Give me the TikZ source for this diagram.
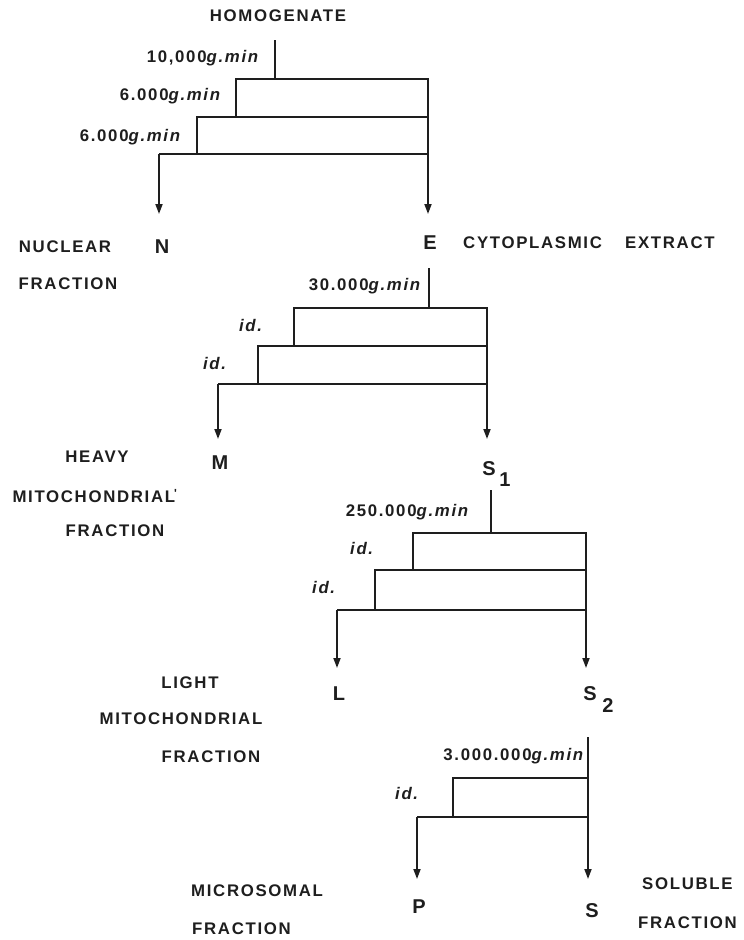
\documentclass[tikz,border=0pt]{standalone}
\usepackage{fontspec}
\setmainfont{Liberation Sans}
\newfontfamily\lblfont[LetterSpace=10]{Liberation Sans}
\newfontfamily\bigfont{Liberation Sans}
\usetikzlibrary{arrows.meta}
\definecolor{ink}{HTML}{1E1E1E}
\tikzset{
  lbl/.style={font=\lblfont\bfseries\fontsize{16.8}{19}\selectfont, inner sep=0pt, text=ink},
  cond/.style={lbl, anchor=east},
  big/.style={font=\bigfont\bfseries\fontsize{20}{22}\selectfont, inner sep=0pt, text=ink},
  flow/.style={line width=1.8pt, draw=ink},
  arr/.style={flow, -{Triangle[width=7pt,length=10pt]}}
}
\begin{document}
\begin{tikzpicture}[x=1pt,y=-1pt]
\useasboundingbox[fill=white] (0,0) rectangle (744,940);

% ---------- section 1 ----------
\node[lbl] (hom) at (278,16) {HOMOGENATE};
\coordinate (s1top) at (275,40);
\coordinate (s1j) at (275,79);
\coordinate (s1al) at (236,79); \coordinate (s1ar) at (428,117);
\coordinate (s1bl) at (197,117); \coordinate (s1br) at (428,154);
\coordinate (s1L) at (159,154); \coordinate (s1R) at (428,154);
\coordinate (s1Lend) at (159,214); \coordinate (s1Rend) at (428,214);
\draw[flow] (s1top) -- (s1j);
\draw[flow] (s1al) rectangle (s1ar);
\draw[flow] (s1bl) rectangle (s1br);
\draw[flow] (s1L) -- (s1R);
\draw[arr] (s1L) -- (s1Lend);
\draw[arr] (s1R) -- (s1Rend);
\node[cond] (c11) at (260,58) {10,000\textit{g.min}};
\node[cond] (c12) at (222,96) {6.000\textit{g.min}};
\node[cond] (c13) at (182,137) {6.000\textit{g.min}};

\node[big] (N) at (162,247) {N};
\node[big] (E) at (430,243) {E};
\node[lbl] (nuc1) at (65,247) {NUCLEAR};
\node[lbl] (nuc2) at (68,284) {FRACTION};
\node[lbl, anchor=west] (cyt) at (463,243) {CYTOPLASMIC};
\node[lbl, anchor=west] (ext) at (625,243) {EXTRACT};

% ---------- section 2 ----------
\coordinate (s2top) at (429,268);
\coordinate (s2j) at (429,308);
\coordinate (s2al) at (294,308); \coordinate (s2ar) at (487,346);
\coordinate (s2bl) at (258,346); \coordinate (s2br) at (487,384);
\coordinate (s2L) at (218,384); \coordinate (s2R) at (487,384);
\coordinate (s2Lend) at (218,439); \coordinate (s2Rend) at (487,439);
\draw[flow] (s2top) -- (s2j);
\draw[flow] (s2al) rectangle (s2ar);
\draw[flow] (s2bl) rectangle (s2br);
\draw[flow] (s2L) -- (s2R);
\draw[arr] (s2L) -- (s2Lend);
\draw[arr] (s2R) -- (s2Rend);
\node[cond] (c21) at (422,286) {30.000\textit{g.min}};
\node[cond] (c22) at (264,325) {\textit{id.}};
\node[cond] (c23) at (228,363) {\textit{id.}};

\node[big] (M) at (220,463) {M};
\node[big] (S1) at (489,469) {S};
\node[big] (S1i) at (505,480) {1};
\node[lbl] (hv1) at (97,457) {HEAVY};
\node[lbl] (hv2) at (95,496) {MITOCHONDRIAL\textsuperscript{\kern-1pt\raisebox{-1pt}{'}}};
\node[lbl] (hv3) at (115,531) {FRACTION};

% ---------- section 3 ----------
\coordinate (s3top) at (491,490);
\coordinate (s3j) at (491,533);
\coordinate (s3al) at (413,533); \coordinate (s3ar) at (586,570);
\coordinate (s3bl) at (375,570); \coordinate (s3br) at (586,610);
\coordinate (s3L) at (337,610); \coordinate (s3R) at (586,610);
\coordinate (s3Lend) at (337,668); \coordinate (s3Rend) at (586,668);
\draw[flow] (s3top) -- (s3j);
\draw[flow] (s3al) rectangle (s3ar);
\draw[flow] (s3bl) rectangle (s3br);
\draw[flow] (s3L) -- (s3R);
\draw[arr] (s3L) -- (s3Lend);
\draw[arr] (s3R) -- (s3Rend);
\node[cond] (c31) at (470,512) {250.000\textit{g.min}};
\node[cond] (c32) at (375,548) {\textit{id.}};
\node[cond] (c33) at (337,587) {\textit{id.}};

\node[big] (L) at (339,694) {L};
\node[big] (S2) at (590,694) {S};
\node[big] (S2i) at (608,706) {2};
\node[lbl] (lt1) at (190,683) {LIGHT};
\node[lbl] (lt2) at (181,719) {MITOCHONDRIAL};
\node[lbl] (lt3) at (211,757) {FRACTION};

% ---------- section 4 ----------
\coordinate (s4top) at (588,737);
\coordinate (s4j) at (588,778);
\coordinate (s4al) at (453,778); \coordinate (s4ar) at (588,817);
\coordinate (s4L) at (417,817); \coordinate (s4R) at (588,817);
\coordinate (s4Lend) at (417,879); \coordinate (s4Rend) at (588,879);
\draw[flow] (s4top) -- (s4j);
\draw[flow] (s4al) rectangle (s4ar);
\draw[flow] (s4L) -- (s4R);
\draw[arr] (s4L) -- (s4Lend);
\draw[arr] (s4R) -- (s4Rend);
\node[cond] (c41) at (585,756) {3.000.000\textit{g.min}};
\node[cond] (c42) at (420,793) {\textit{id.}};

\node[big] (P) at (419,907) {P};
\node[big] (S) at (592,911) {S};
\node[lbl, anchor=west] (mc1) at (191,891) {MICROSOMAL};
\node[lbl, anchor=west] (mc2) at (192,929) {FRACTION};
\node[lbl, anchor=west] (sl1) at (642,884) {SOLUBLE};
\node[lbl, anchor=west] (sl2) at (638,923) {FRACTION};
\end{tikzpicture}
\end{document}
